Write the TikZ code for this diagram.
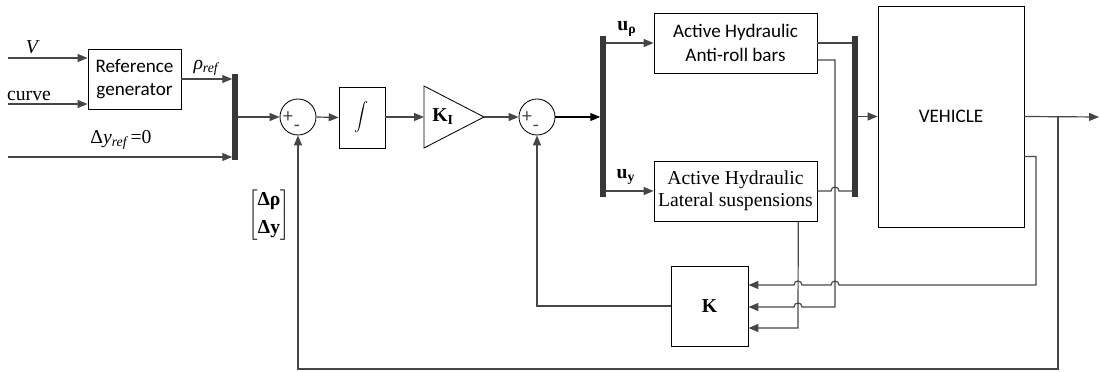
\documentclass[tikz,border=0pt]{standalone}
\usepackage{fontspec}
\setmainfont{Liberation Serif}
\newfontfamily\sansf{Carlito}
\usetikzlibrary{arrows.meta,calc}
\definecolor{wire}{RGB}{70,70,70}
\definecolor{barc}{RGB}{55,55,55}
\begin{document}
\begin{tikzpicture}[x=0.025cm,y=-0.025cm,
  font=\fontsize{14}{16}\selectfont,
  wire/.style={draw=wire, line width=0.85pt},
  arr/.style={wire, -{Triangle[length=7pt,width=5.6pt]}},
  blk/.style={draw=black, line width=0.6pt, fill=white, align=center, inner sep=0pt},
  sanstext/.style={font=\sansf\fontsize{13.6}{16.5}\selectfont},
  bus/.style={fill=barc, draw=none, minimum width=3.6pt, inner sep=0pt},
  sumc/.style={circle, draw=black, line width=0.6pt, minimum size=36*0.025cm, inner sep=0pt},
  sgn/.style={font=\sansf\fontsize{14}{14}\selectfont, text=wire, inner sep=0pt},
]
\useasboundingbox (0,0) rectangle (1100,372);

% ---------- blocks ----------
\node[blk, sanstext, minimum width=93*0.025cm, minimum height=60*0.025cm] (ref) at (134.5,79) {Reference\\generator};
\node[bus, minimum height=86*0.025cm] (bar1) at (235,117) {};
\node[sumc] (sum1) at (298,117) {};
\node[blk, minimum width=46*0.025cm, minimum height=61*0.025cm] (integ) at (362,117.5) {$\displaystyle\int$};
\coordinate (gin) at (424,117);
\coordinate (gout) at (484,117);
\draw[black, line width=0.6pt] (424,86) -- (gout) -- (424,148) -- cycle;
\node (gain) at (443,117) {\textbf{K}\textsubscript{\bfseries I}};
\node[sumc] (sum2) at (537,117) {};
\node[bus, minimum height=161*0.025cm] (bar2) at (603,116.5) {};
\node[blk, sanstext, minimum width=163*0.025cm, minimum height=60*0.025cm] (box1) at (735.5,43) {Active Hydraulic\\Anti-roll bars};
\node[blk, minimum width=163*0.025cm, minimum height=60*0.025cm] (box2) at (735.5,191) {Active Hydraulic\\Lateral suspensions};
\node[bus, minimum height=161*0.025cm] (bar3) at (855,116.5) {};
\node[blk, sanstext, minimum width=146*0.025cm, minimum height=221*0.025cm] (veh) at (951,116.5) {VEHICLE};
\node[blk, minimum width=77*0.025cm, minimum height=80*0.025cm] (K) at (709.5,306) {\textbf{K}};

% summing signs
\node[sgn] at ($(sum1)+(-10,0)$) {+};
\node[sgn] at ($(sum1)+(-1,11)$) {-};
\node[sgn] at ($(sum2)+(-10,0)$) {+};
\node[sgn] at ($(sum2)+(-1,11)$) {-};

% ---------- labels ----------
\node (lv) at (32,47) {\itshape V};
\node (lcurve) at (29,96) {curve};
\node (lrho) at (206,68) {\itshape ρ\textsubscript{ref}};
\node (ldy) at (121,140) {Δ\textit{y}\textsubscript{\itshape ref}\,=0};
\node (lur) at (627,29) {\textbf{u}\textsubscript{\bfseries ρ}};
\node (luy) at (626,177) {\textbf{u}\textsubscript{\bfseries y}};
\node (lmat) at (269,215) {$\left[\begin{array}{@{}c@{}}\mbox{\bfseries Δρ}\\[4pt]\mbox{\bfseries Δy}\end{array}\right]$};

% ---------- forward path ----------
\coordinate (vin) at (8,58);
\coordinate (cin) at (8,104);
\coordinate (dyin) at (8,157);
\draw[arr] (vin) -- (vin -| ref.west);
\draw[arr] (cin) -- (cin -| ref.west);
\draw[arr] (ref.east) -- (ref.east -| bar1.west);
\draw[arr] (dyin) -- (dyin -| bar1.west);
\draw[arr] (bar1.east |- sum1.west) -- (sum1.west);
\draw[arr] (sum1.east) -- (integ.west);
\draw[arr] (integ.east |- gin) -- (gin);
\draw[arr] (gout) -- (sum2.west);
\draw[draw=black, line width=0.85pt, -{Triangle[length=7pt,width=5.6pt]}] (sum2.east) -- (sum2.east -| bar2.west);
\draw[arr] (bar2.east |- box1.west) -- (box1.west);
\draw[arr] (bar2.east |- box2.west) -- (box2.west);
\draw[wire] (box1.east) -- (box1.east -| bar3.west);
\draw[wire] (box2.east) -- (831,191) .. controls (831,185.7) and (839,185.7) .. (839,191) -- (box2.east -| bar3.west);
\draw[arr] (bar3.east |- veh.west) -- (veh.west);
\coordinate (vout) at (1099,117);
\coordinate (br) at (1058,117);
\draw[arr] (veh.east) -- (vout);

% ---------- feedback paths ----------
\coordinate (fb) at (1058,369);
\draw[arr] (br) -- (fb) -- (fb -| sum1) -- (sum1.south);
\draw[arr] (K.west) -- (K.west -| sum2) -- (sum2.south);

\coordinate (b1o) at ($(box1.north east)!0.78!(box1.south east)$);
\draw[arr] (b1o) -- (835,60) -- (835,307) -- (802,307)
  .. controls (802,301.7) and (794,301.7) .. (794,307) -- (K.east |- 0,307);

\coordinate (b2o) at ($(box2.south west)!0.883!(box2.south east)$);
\draw[arr] (b2o) -- (798,328) -- (K.east |- 0,328);

\coordinate (vo2) at ($(veh.north east)!0.68!(veh.south east)$);
\draw[arr] (vo2) -- (1036,156.6) -- (1036,285) -- (839,285)
  .. controls (839,279.7) and (831,279.7) .. (831,285) -- (802,285)
  .. controls (802,279.7) and (794,279.7) .. (794,285) -- (K.east |- 0,285);
\end{tikzpicture}
\end{document}
